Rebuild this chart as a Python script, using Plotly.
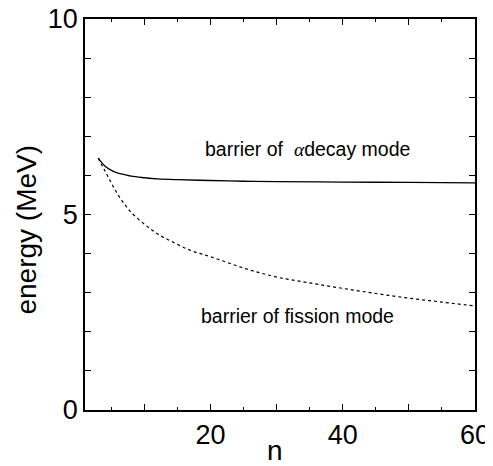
import plotly.graph_objects as go

# --- data ---
n_alpha = [3, 4, 5, 6, 7, 8, 10, 12, 15, 20, 25, 30, 40, 50, 60]
e_alpha = [6.44, 6.24, 6.13, 6.06, 6.02, 5.98, 5.94, 5.91, 5.89, 5.87, 5.85, 5.84, 5.83, 5.82, 5.81]

n_fission = [3, 4, 5, 6, 7, 8, 10, 12, 14, 17, 20, 25, 30, 35, 40, 45, 50, 55, 60]
e_fission = [6.44, 6.12, 5.80, 5.50, 5.26, 5.05, 4.75, 4.50, 4.32, 4.08, 3.92, 3.63, 3.40,
             3.25, 3.11, 2.98, 2.86, 2.76, 2.66]

x_tickvals = [10, 20, 30, 40, 50, 60]
x_ticktext = ["", "20", "", "40", "", "60"]
y_tickvals = [0, 1, 2, 3, 4, 5, 6, 7, 8, 9, 10]
y_ticktext = ["0", "", "", "", "", "5", "", "", "", "", "10"]

FONT = "Liberation Sans, Arial, Helvetica, sans-serif"

OFF = 8  # page body margin
W, H = 485, 458
ML, MR, MT, MB = 77, 17.5, 11, 56
PW, PH = W - ML - MR, H - MT - MB


def px2paper(px, py):
    # px, py are window pixel coordinates
    return (px - OFF - ML) / PW, (H - MB - (py - OFF)) / PH


fig = go.Figure()
fig.add_trace(go.Scatter(x=n_alpha, y=e_alpha, mode="lines",
                         line=dict(color="black", width=1.3, shape="spline"),
                         showlegend=False))
fig.add_trace(go.Scatter(x=n_fission, y=e_fission, mode="lines",
                         line=dict(color="black", width=1.2, dash="3px,3px", shape="spline"),
                         showlegend=False))

axis_common = dict(showline=True, linecolor="black", linewidth=1.5, mirror="ticks",
                   ticks="inside", tickcolor="black", tickwidth=1, showgrid=False,
                   zeroline=False, automargin=False, ticklabeloverflow="allow",
                   tickfont=dict(family=FONT, size=27, color="black"))

fig.update_xaxes(range=[1, 60], tickmode="array", tickvals=x_tickvals, ticktext=x_ticktext,
                 ticklen=6, minor=dict(dtick=5, tick0=0, ticks="inside", ticklen=3.5,
                                       tickcolor="black", tickwidth=1, showgrid=False),
                 **axis_common)
fig.update_yaxes(range=[0, 10], tickmode="array", tickvals=y_tickvals, ticktext=y_ticktext,
                 ticklen=6, **axis_common)

ytx, yty = px2paper(26, 229.5)
xtx, xty = px2paper(275, 450)
fig.add_annotation(text="energy (MeV)", xref="paper", yref="paper", x=ytx, y=yty,
                   textangle=-90, showarrow=False, xanchor="center", yanchor="middle",
                   font=dict(family=FONT, size=28, color="black"))
fig.add_annotation(text="n", xref="paper", yref="paper", x=xtx, y=xty,
                   showarrow=False, xanchor="center", yanchor="middle",
                   font=dict(family=FONT, size=28, color="black"))

fig.add_annotation(text="barrier of\u00a0\u00a0<span style=\"font-family:'Liberation Serif', serif\"><i>α</i></span>decay mode",
                   x=18.9, y=6.68, xref="x", yref="y", showarrow=False,
                   xanchor="left", yanchor="middle",
                   font=dict(family=FONT, size=19.5, color="black"))
fig.add_annotation(text="barrier of fission mode",
                   x=18.2, y=2.40, xref="x", yref="y", showarrow=False,
                   xanchor="left", yanchor="middle",
                   font=dict(family=FONT, size=19.5, color="black"))

fig.update_layout(width=W, height=H, margin=dict(l=ML, r=MR, t=MT, b=MB),
                  paper_bgcolor="white", plot_bgcolor="white")

fig.write_html("out.html")
